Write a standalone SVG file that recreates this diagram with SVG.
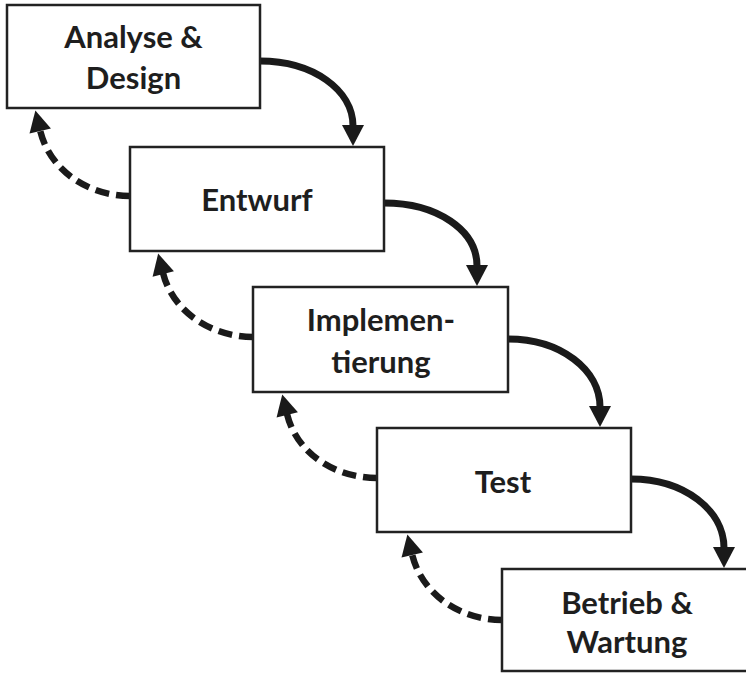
<svg xmlns="http://www.w3.org/2000/svg" width="746" height="673" viewBox="0 0 746 673">
<defs>
<style>
.box{fill:#fff;stroke:#222;stroke-width:2.5}
.lbl{font-family:Lato,"Liberation Sans",sans-serif;font-weight:bold;font-size:31px;fill:#1e1e1e;text-anchor:middle}
.fwd{fill:none;stroke:#1a1a1a;stroke-width:7}
.back{fill:none;stroke:#1a1a1a;stroke-width:6.5;stroke-dasharray:14 7}
</style>
<marker id="ah" markerUnits="userSpaceOnUse" markerWidth="24" markerHeight="24" viewBox="0 -12 22 24" refX="1" refY="0" orient="auto">
<path d="M0,-11 L21,0 L0,11 Z" fill="#1a1a1a"/>
</marker>
</defs>
<rect width="746" height="673" fill="#fff"/>
<g id="connectors">
<path class="fwd" d="M260,61 C313,61 353,90 353,126" marker-end="url(#ah)"/>
<path class="fwd" d="M384,203 C437,203 477,230 477,266" marker-end="url(#ah)"/>
<path class="fwd" d="M508,339 C561,339 600,370 600,407" marker-end="url(#ah)"/>
<path class="fwd" d="M631,479 C684,479 724,510 724,548" marker-end="url(#ah)"/>
<path class="back" d="M130,196 C90,196 50,172 40,130" marker-end="url(#ah)"/>
<path class="back" d="M253,337 C213,337 173,313 163,273" marker-end="url(#ah)"/>
<path class="back" d="M377,478 C337,478 297,455 287,414" marker-end="url(#ah)"/>
<path class="back" d="M502,620 C462,620 422,596 412,554" marker-end="url(#ah)"/>
</g>
<g id="analyse">
<rect class="box" x="7" y="5" width="253" height="103"/>
<text class="lbl" x="133.5" y="48">Analyse &amp;</text>
<text class="lbl" x="133.5" y="89">Design</text>
</g>
<g id="entwurf">
<rect class="box" x="130" y="147" width="254" height="104"/>
<text class="lbl" x="257" y="211">Entwurf</text>
</g>
<g id="implementierung">
<rect class="box" x="253" y="287" width="255" height="105"/>
<text class="lbl" x="381" y="331">Implemen-</text>
<text class="lbl" x="381" y="373">tierung</text>
</g>
<g id="test">
<rect class="box" x="377" y="428" width="254" height="104"/>
<text class="lbl" x="503" y="493">Test</text>
</g>
<g id="betrieb">
<rect class="box" x="502" y="569" width="280" height="102"/>
<text class="lbl" x="627" y="614">Betrieb &amp;</text>
<text class="lbl" x="627" y="653">Wartung</text>
</g>
</svg>
